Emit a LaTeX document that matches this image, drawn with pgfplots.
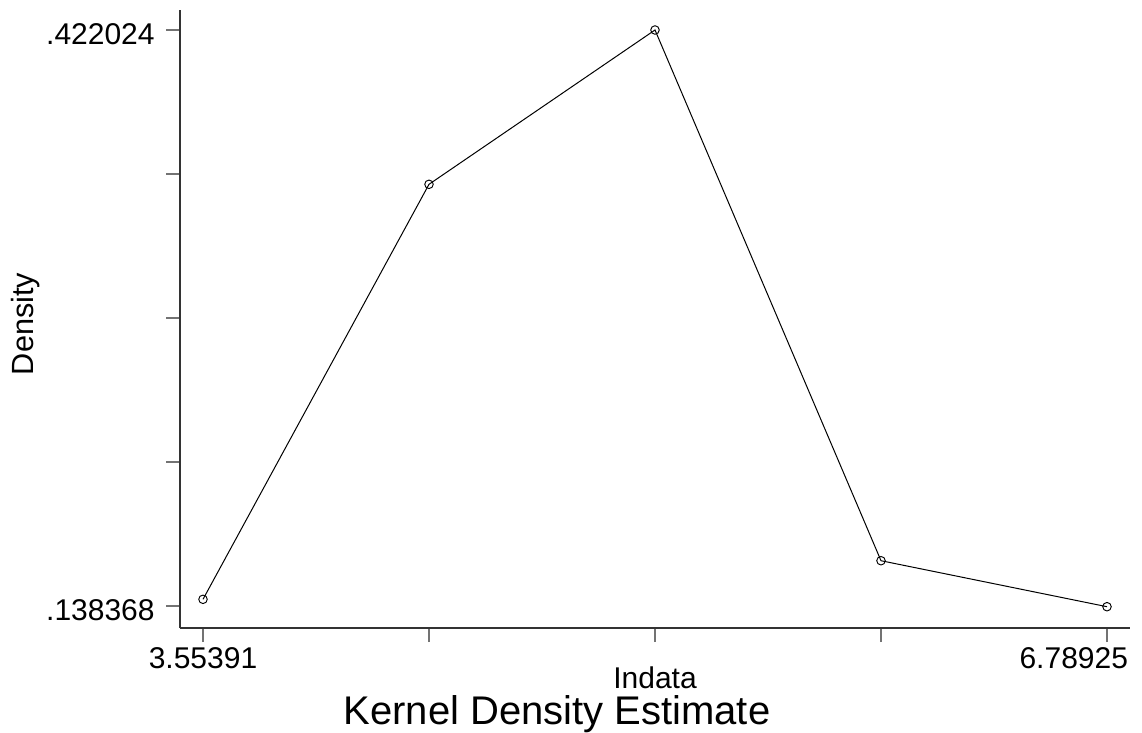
\documentclass[border=0pt]{standalone}
\usepackage{fontspec}
\setmainfont{Liberation Sans}
\usepackage{pgfplots}
\pgfplotsset{compat=1.18}
\begin{document}
\begin{tikzpicture}
\path[use as bounding box] (0,0) rectangle (856.5pt,549pt);
\begin{axis}[
  at={(135pt,78pt)}, anchor=south west,
  scale only axis, width=712.5pt, height=463.5pt,
  xmin=3.4716, xmax=6.8716, ymin=0.127534, ymax=0.431873,
  axis x line=bottom, axis y line=left,
  axis line style={-, draw=black!80, line width=1pt},
  tick align=outside,
  major tick length=10.5pt,
  major tick style={draw=black!55, line width=1pt},
  xtick={3.55391,4.36275,5.17158,5.98042,6.78925},
  xticklabels={3.55391,,,,{\hspace*{31.5pt}\makebox[0pt][r]{6.78925}}},
  ytick={0.138368,0.209282,0.280196,0.351110,0.422024},
  yticklabels={.138368,,,,.422024},
  xticklabel style={font=\fontsize{22.5pt}{24pt}\selectfont, anchor=north, yshift=-1pt},
  yticklabel style={font=\fontsize{22.5pt}{24pt}\selectfont, anchor=east, yshift=-3pt, xshift=-5pt},
  clip=false,
]
\addplot[black, line width=0.75pt, mark=o, mark size=3.2pt, mark options={line width=0.7pt}] coordinates {
  (3.55391,0.14166)
  (4.36275,0.34603)
  (5.17158,0.422024)
  (5.98042,0.16067)
  (6.78925,0.13802)
};
\end{axis}
\node[anchor=base, inner sep=0pt, font=\fontsize{22.5pt}{24pt}\selectfont] at (491.25pt,33pt) {Indata};
\node[anchor=base, inner sep=0pt, font=\fontsize{30pt}{34pt}\selectfont] at (417.75pt,6pt) {Kernel Density Estimate};
\node[anchor=base, inner sep=0pt, rotate=90, font=\fontsize{23pt}{26pt}\selectfont] at (24.75pt,306pt) {Density};
\end{tikzpicture}
\end{document}
